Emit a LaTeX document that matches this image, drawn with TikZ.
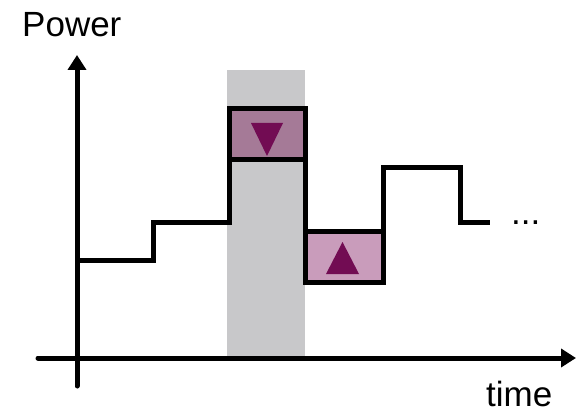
\documentclass[tikz,border=0pt]{standalone}
\usepackage{fontspec}
\setmainfont{Liberation Sans}
\usetikzlibrary{arrows.meta}
\definecolor{band}{HTML}{C8C8CA}
\definecolor{boxA}{HTML}{A57A97}
\definecolor{boxB}{HTML}{C99CBB}
\definecolor{tri}{HTML}{720C53}
\tikzset{
  axis/.style={line width=5pt, line cap=round, -{Triangle[length=15pt,width=18pt]}},
  stepline/.style={line width=5pt, line join=miter},
  lbl/.style={font=\fontsize{35}{40}\selectfont, inner sep=0pt, anchor=base west},
}
\begin{document}
\begin{tikzpicture}[x=1pt,y=-1pt]
\useasboundingbox (0,0) rectangle (578,414);
% gray band
\fill[band] (227,70) rectangle (305,356);
% boxes
\fill[boxA] (229,109) rectangle (305,160);
\fill[boxB] (305,231) rectangle (383,282);
\fill[tri] (251,123) -- (283,123) -- (267,156) -- cycle;
\fill[tri] (326,274) -- (359,274) -- (342.5,242) -- cycle;
% axes
\draw[axis] (77,386) -- (77,55);
\draw[axis] (38,358) -- (576,358);
% step line
\draw[stepline] (77,260) -- (153,260) -- (153,222) -- (229,222) -- (229,109)
  -- (305,109) -- (305,282) -- (383,282) -- (383,168) -- (460,168) -- (460,222) -- (490,222);
\draw[stepline] (229,160) -- (305,160);
\draw[stepline] (305,231) -- (383,231);
% labels
\node[lbl] (power) at (22,37) {Power};
\node[lbl] (time) at (486,406) {time};
\node[lbl] (dots) at (511,224) {...};
\end{tikzpicture}
\end{document}
